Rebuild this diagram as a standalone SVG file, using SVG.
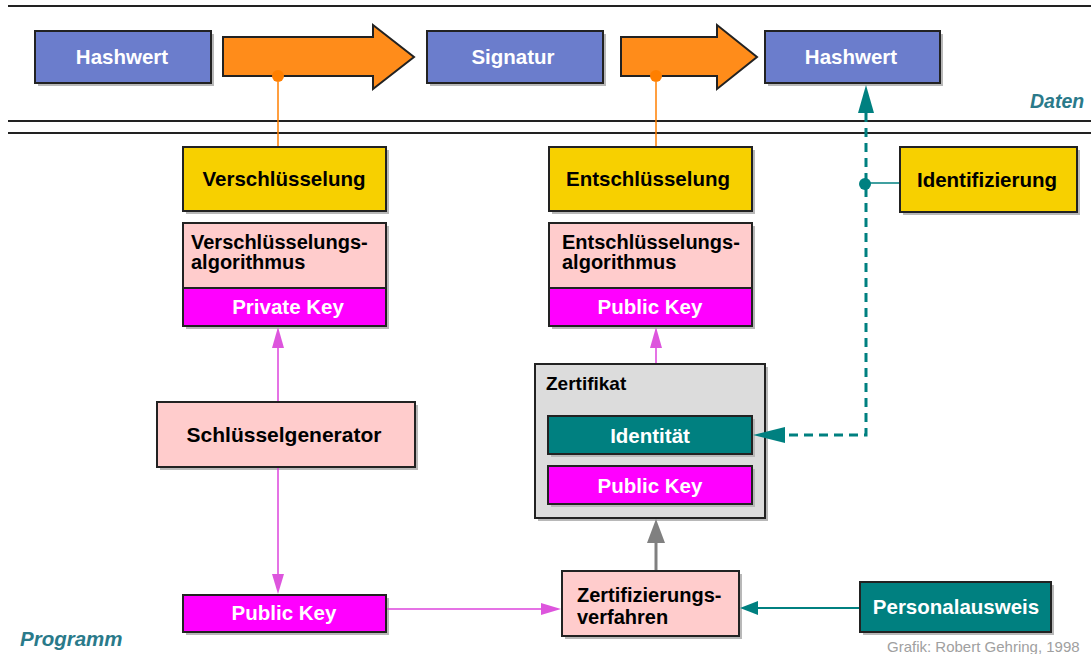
<svg xmlns="http://www.w3.org/2000/svg" width="1091" height="654" viewBox="0 0 1091 654">
<defs>
<style>
.t{font-family:"Liberation Sans",Arial,sans-serif;font-weight:bold;}
.w{fill:#ffffff;font-size:20.5px;}
.b{fill:#000000;font-size:20.5px;}
.sh{fill:#b8b8b8;}
.blue{fill:#6b7dcc;stroke:#222;stroke-width:2;}
.yel{fill:#f7d000;stroke:#222;stroke-width:2;}
.pink{fill:#ffcccc;stroke:#222;stroke-width:2;}
.mag{fill:#ff00ff;stroke:#222;stroke-width:2;}
.teal{fill:#008080;stroke:#222;stroke-width:2;}
.gray{fill:#dcdcdc;stroke:#222;stroke-width:2;}
.orange{fill:#ff8c1a;stroke:#222;stroke-width:2;}
.lbl{font-family:"Liberation Sans",Arial,sans-serif;font-style:italic;font-weight:bold;fill:#2a7a8a;}
</style>
</defs>
<rect width="1091" height="654" fill="#ffffff"/>
<g id="lines" stroke="#222" stroke-width="2">
<line x1="8" y1="6" x2="1091" y2="6"/>
<line x1="8" y1="121" x2="1091" y2="121"/>
<line x1="8" y1="133" x2="1091" y2="133"/>
</g>
<text class="lbl" x="1030" y="108" style="font-size:19.5px">Daten</text>
<text class="lbl" x="20" y="646" style="font-size:20.5px">Programm</text>
<text x="887" y="652" style="font-family:'Liberation Sans',Arial,sans-serif;font-size:15px;fill:#a0a0a0">Grafik: Robert Gehring, 1998</text>

<g id="arrow1">
<polygon class="orange" points="223,37 373,37 373,25 414,57 373,89 373,76 223,76"/>
<circle cx="278" cy="76" r="6" fill="#ff7f00"/>
</g>
<g id="arrow2">
<polygon class="orange" points="621,37 717,37 717,25 757,57 717,89 717,76 621,76"/>
<circle cx="656" cy="76" r="6" fill="#ff7f00"/>
</g>

<g id="hashwert1">
<rect class="sh" x="38" y="34" width="176" height="52"/>
<rect class="blue" x="35" y="31" width="176" height="52"/>
<text class="t w" x="122" y="64" text-anchor="middle">Hashwert</text>
</g>
<g id="signatur">
<rect class="sh" x="430" y="34" width="176" height="52"/>
<rect class="blue" x="427" y="31" width="176" height="52"/>
<text class="t w" x="513" y="64" text-anchor="middle">Signatur</text>
</g>
<g id="hashwert2">
<rect class="sh" x="768" y="34" width="175" height="52"/>
<rect class="blue" x="765" y="31" width="175" height="52"/>
<text class="t w" x="851" y="64" text-anchor="middle">Hashwert</text>
</g>

<g id="verschluesselung">
<rect class="sh" x="186" y="150" width="203" height="64"/>
<rect class="yel" x="183" y="147" width="203" height="64"/>
<text class="t b" x="284" y="186" text-anchor="middle">Verschlüsselung</text>
</g>
<g id="verschl-algo">
<rect class="sh" x="186" y="226" width="203" height="103"/>
<rect class="pink" x="183" y="223" width="203" height="65"/>
<text class="t b" x="191" y="249" style="font-size:20px">Verschlüsselungs-</text>
<text class="t b" x="191" y="269" style="font-size:20px">algorithmus</text>
<rect class="mag" x="183" y="288" width="203" height="38"/>
<text class="t w" x="288" y="314" text-anchor="middle">Private Key</text>
</g>

<g id="entschluesselung">
<rect class="sh" x="552" y="150" width="203" height="64"/>
<rect class="yel" x="549" y="147" width="203" height="64"/>
<text class="t b" x="648" y="186" text-anchor="middle">Entschlüsselung</text>
</g>
<g id="entschl-algo">
<rect class="sh" x="552" y="226" width="203" height="103"/>
<rect class="pink" x="549" y="223" width="203" height="65"/>
<text class="t b" x="562" y="249" style="font-size:20px">Entschlüsselungs-</text>
<text class="t b" x="562" y="269" style="font-size:20px">algorithmus</text>
<rect class="mag" x="549" y="288" width="203" height="38"/>
<text class="t w" x="650" y="314" text-anchor="middle">Public Key</text>
</g>

<g id="identifizierung">
<rect class="sh" x="903" y="150" width="177" height="65"/>
<rect class="yel" x="900" y="147" width="177" height="65"/>
<text class="t b" x="987" y="187" text-anchor="middle">Identifizierung</text>
</g>

<g id="schluesselgenerator">
<rect class="sh" x="160" y="405" width="258" height="65"/>
<rect class="pink" x="157" y="402" width="258" height="65"/>
<text class="t b" x="284" y="442" text-anchor="middle" style="font-size:21px">Schlüsselgenerator</text>
</g>

<g id="zertifikat">
<rect class="sh" x="538" y="367" width="230" height="154"/>
<rect class="gray" x="535" y="364" width="230" height="154"/>
<text class="t b" x="546" y="390" style="font-size:19px">Zertifikat</text>
<rect class="sh" x="551" y="419" width="204" height="38"/>
<rect class="teal" x="548" y="416" width="204" height="38"/>
<text class="t w" x="650" y="443" text-anchor="middle">Identität</text>
<rect class="sh" x="551" y="469" width="204" height="38"/>
<rect class="mag" x="548" y="466" width="204" height="38"/>
<text class="t w" x="650" y="493" text-anchor="middle">Public Key</text>
</g>

<g id="publickey-bottom">
<rect class="sh" x="186" y="598" width="203" height="37"/>
<rect class="mag" x="183" y="595" width="203" height="37"/>
<text class="t w" x="284" y="620" text-anchor="middle">Public Key</text>
</g>

<g id="zertifizierungsverfahren">
<rect class="sh" x="565" y="574" width="177" height="65"/>
<rect class="pink" x="562" y="571" width="177" height="65"/>
<text class="t b" x="577" y="602" style="font-size:20px">Zertifizierungs-</text>
<text class="t b" x="577" y="624" style="font-size:20px">verfahren</text>
</g>

<g id="personalausweis">
<rect class="sh" x="863" y="585" width="191" height="50"/>
<rect class="teal" x="860" y="582" width="191" height="50"/>
<text class="t w" x="956" y="614" text-anchor="middle">Personalausweis</text>
</g>

<g id="connectors">
<line x1="278" y1="82" x2="278" y2="146" stroke="#ff7f00" stroke-width="1.5"/>
<line x1="656" y1="82" x2="656" y2="146" stroke="#ff7f00" stroke-width="1.5"/>
<path d="M866,113 L866,435 L785,435" fill="none" stroke="#008080" stroke-width="3" stroke-dasharray="9,6"/>
<polygon points="866,85 858,113 874,113" fill="#008080"/>
<polygon points="753,435 785,427 785,443" fill="#008080"/>
<line x1="865" y1="183" x2="899" y2="183" stroke="#008080" stroke-width="1.5"/>
<circle cx="865" cy="184" r="6" fill="#008080"/>
<line x1="278" y1="401" x2="278" y2="346" stroke="#dd44dd" stroke-width="1.5"/>
<polygon points="278,327 272,348 284,348" fill="#dd55dd"/>
<line x1="278" y1="468" x2="278" y2="576" stroke="#dd44dd" stroke-width="1.5"/>
<polygon points="278,594 272,574 284,574" fill="#dd55dd"/>
<line x1="656" y1="363" x2="656" y2="346" stroke="#dd44dd" stroke-width="1.5"/>
<polygon points="656,327 650,348 662,348" fill="#dd55dd"/>
<line x1="387" y1="609" x2="545" y2="609" stroke="#dd44dd" stroke-width="1.5"/>
<polygon points="561,609 541,603 541,615" fill="#dd55dd"/>
<line x1="656" y1="570" x2="656" y2="540" stroke="#808080" stroke-width="3"/>
<polygon points="656,519 647,543 665,543" fill="#808080"/>
<line x1="859" y1="608" x2="755" y2="608" stroke="#008080" stroke-width="2"/>
<polygon points="740,608 758,601 758,615" fill="#008080"/>
</g>
</svg>
